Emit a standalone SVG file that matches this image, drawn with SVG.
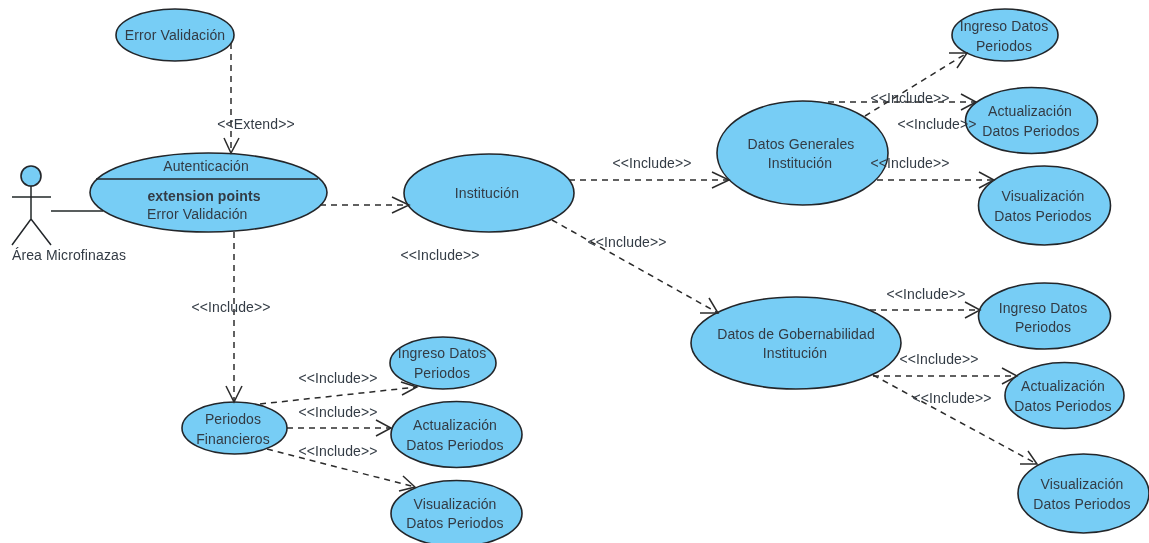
<svg xmlns="http://www.w3.org/2000/svg" width="1149" height="543" viewBox="0 0 1149 543">
<style>
text{font-family:"Liberation Sans",Arial,sans-serif;font-size:14px;letter-spacing:.12px;fill:#333b44;text-anchor:middle}
.uc{fill:#77cdf5;stroke:#23262a;stroke-width:1.6}
.dep{fill:none;stroke:#2b2b2b;stroke-width:1.5;stroke-dasharray:6 5}
.head{fill:none;stroke:#2b2b2b;stroke-width:1.5}
.ln{fill:none;stroke:#23262a;stroke-width:1.5}
</style>
<defs><filter id="soft" x="-2%" y="-2%" width="104%" height="104%"><feGaussianBlur stdDeviation="0.35"/></filter></defs>
<rect width="1149" height="543" fill="#ffffff"/>
<g filter="url(#soft)">
<g id="actor">
<circle class="uc" cx="31" cy="176" r="10"/>
<path class="ln" d="M31 186V219M12 197H51M12 245L31 219L51 245"/>
<text x="69" y="260">Área Microfinazas</text>
</g>
<g id="error-validacion"><ellipse class="uc" cx="175" cy="35" rx="59" ry="26"/><text x="175" y="40">Error Validación</text></g>
<g id="autenticacion"><ellipse class="uc" cx="208.500" cy="192.500" rx="118.500" ry="39.500"/><path class="ln" d="M96 179H318"/>
<text x="206" y="171">Autenticación</text><text x="204" y="201" font-weight="bold">extension points</text><text x="147" y="219" style="text-anchor:start">Error Validación</text></g>
<g id="institucion"><ellipse class="uc" cx="489" cy="193" rx="85" ry="39"/><text x="487" y="198">Institución</text></g>
<g id="datos-generales"><ellipse class="uc" cx="802.500" cy="153" rx="85.500" ry="52"/><text x="801" y="149">Datos Generales</text><text x="800" y="168">Institución</text></g>
<g id="dg-ingreso"><ellipse class="uc" cx="1005" cy="35" rx="53" ry="26"/><text x="1004" y="31">Ingreso Datos</text><text x="1004" y="51">Periodos</text></g>
<g id="dg-actualizacion"><ellipse class="uc" cx="1031.500" cy="120.500" rx="66" ry="33"/><text x="1030" y="116">Actualización</text><text x="1031" y="136">Datos Periodos</text></g>
<g id="dg-visualizacion"><ellipse class="uc" cx="1044.500" cy="205.500" rx="66" ry="39.500"/><text x="1043" y="201">Visualización</text><text x="1043" y="221">Datos Periodos</text></g>
<g id="datos-gobernabilidad"><ellipse class="uc" cx="796" cy="343" rx="105" ry="46"/><text x="796" y="339">Datos de Gobernabilidad</text><text x="795" y="358">Institución</text></g>
<g id="dgob-ingreso"><ellipse class="uc" cx="1044.500" cy="316" rx="66" ry="33"/><text x="1043" y="313">Ingreso Datos</text><text x="1043" y="332">Periodos</text></g>
<g id="dgob-actualizacion"><ellipse class="uc" cx="1064.500" cy="395.500" rx="59.500" ry="33"/><text x="1063" y="391">Actualización</text><text x="1063" y="411">Datos Periodos</text></g>
<g id="dgob-visualizacion"><ellipse class="uc" cx="1083.500" cy="493.500" rx="65.500" ry="39.500"/><text x="1082" y="489">Visualización</text><text x="1082" y="509">Datos Periodos</text></g>
<g id="periodos"><ellipse class="uc" cx="234.500" cy="428" rx="52.500" ry="26"/><text x="233" y="424">Periodos</text><text x="233" y="444">Financieros</text></g>
<g id="p-ingreso"><ellipse class="uc" cx="443" cy="363" rx="53" ry="26"/><text x="442" y="358">Ingreso Datos</text><text x="442" y="378">Periodos</text></g>
<g id="p-actualizacion"><ellipse class="uc" cx="456.500" cy="434.500" rx="65.500" ry="33"/><text x="455" y="430">Actualización</text><text x="455" y="450">Datos Periodos</text></g>
<g id="p-visualizacion"><ellipse class="uc" cx="456.500" cy="513.500" rx="65.500" ry="33"/><text x="455" y="509">Visualización</text><text x="455" y="528">Datos Periodos</text></g>
<g id="connectors">
<path class="ln" d="M51 211H103"/>
<path class="dep" d="M231 43V153"/><path class="head" d="M224 138L231 153L239 138"/>
<path class="dep" d="M320 205H409"/><path class="head" d="M392 197L409 205L392 213"/>
<path class="dep" d="M234 232V402"/><path class="head" d="M226 386L234 402L242 386"/>
<path class="dep" d="M569 180H729"/><path class="head" d="M712 172L729 180L712 188"/>
<path class="dep" d="M552 220L718 313"/><path class="head" d="M709 298L718 313L700 313"/>
<path class="dep" d="M865 116L967 53"/><path class="head" d="M949 53L967 53L957 68"/>
<path class="dep" d="M828 102H976"/><path class="head" d="M961 94L976 102L961 110"/>
<path class="dep" d="M877 180H994"/><path class="head" d="M979 172L994 180L979 188"/>
<path class="dep" d="M870 310H980"/><path class="head" d="M965 302L980 310L965 318"/>
<path class="dep" d="M873 376H1017"/><path class="head" d="M1002 368L1017 376L1002 384"/>
<path class="dep" d="M873 375L1037 464"/><path class="head" d="M1028 451L1037 464L1020 464"/>
<path class="dep" d="M260 404L417 387"/><path class="head" d="M401 382L417 387L402 395"/>
<path class="dep" d="M287 428H391"/><path class="head" d="M376 420L391 428L376 436"/>
<path class="dep" d="M267 449L415 487"/><path class="head" d="M403 476L415 487L399 491"/>
</g>
<g id="connector-labels">
<text x="256" y="129">&lt;&lt;Extend&gt;&gt;</text>
<text x="440" y="260">&lt;&lt;Include&gt;&gt;</text>
<text x="652" y="168">&lt;&lt;Include&gt;&gt;</text>
<text x="627" y="247">&lt;&lt;Include&gt;&gt;</text>
<text x="231" y="312">&lt;&lt;Include&gt;&gt;</text>
<text x="338" y="383">&lt;&lt;Include&gt;&gt;</text>
<text x="338" y="417">&lt;&lt;Include&gt;&gt;</text>
<text x="338" y="456">&lt;&lt;Include&gt;&gt;</text>
<text x="910" y="103">&lt;&lt;Include&gt;&gt;</text>
<text x="937" y="129">&lt;&lt;Include&gt;&gt;</text>
<text x="910" y="168">&lt;&lt;Include&gt;&gt;</text>
<text x="926" y="299">&lt;&lt;Include&gt;&gt;</text>
<text x="939" y="364">&lt;&lt;Include&gt;&gt;</text>
<text x="952" y="403">&lt;&lt;Include&gt;&gt;</text>
</g>
</g>
</svg>
